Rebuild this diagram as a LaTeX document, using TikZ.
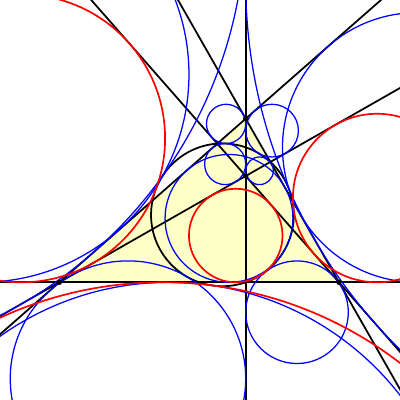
\documentclass[tikz,border=0pt]{standalone}
\usetikzlibrary{calc}
\definecolor{tri}{RGB}{255,255,200}
\tikzset{
  blk/.style={black, line width=1.25pt},
  bluec/.style={blue, line width=0.9pt},
  redc/.style={red, line width=1.2pt},
  dotp/.style={fill=black},
}
% in- and excircles of triangle (#1,#2),(#3,#4),(#5,#6)
\newcommand\tricircles[7]{%
  \pgfmathsetmacro\tcLa{sqrt((#3-#5)^2+(#4-#6)^2)}%
  \pgfmathsetmacro\tcLb{sqrt((#1-#5)^2+(#2-#6)^2)}%
  \pgfmathsetmacro\tcLc{sqrt((#1-#3)^2+(#2-#4)^2)}%
  \pgfmathsetmacro\tcK{abs((#3-#1)*(#6-#2)-(#5-#1)*(#4-#2))}%
  \foreach \sa/\sb/\sc in {1/1/1,-1/1/1,1/-1/1,1/1/-1}{%
    \pgfmathsetmacro\tcD{\sa*\tcLa+\sb*\tcLb+\sc*\tcLc}%
    \pgfmathsetmacro\tcX{(\sa*\tcLa*#1+\sb*\tcLb*#3+\sc*\tcLc*#5)/\tcD}%
    \pgfmathsetmacro\tcY{(\sa*\tcLa*#2+\sb*\tcLb*#4+\sc*\tcLc*#6)/\tcD}%
    \pgfmathsetmacro\tcR{\tcK/\tcD}%
    \draw[#7] (\tcX,\tcY) circle[radius=\tcR];
  }%
}
\begin{document}
\begin{tikzpicture}[x=2.5cm,y=-2.5cm]
\def\Ax{0.593}\def\Ay{2.823}\def\Bx{3.39}\def\Cx{2.457}\def\Cy{1.187}
\pgfmathsetmacro\Hy{\Ay-(\Cx-\Ax)*(\Bx-\Cx)/(\Ay-\Cy)}
\fill[white] (0,0) rectangle (4,4);
\useasboundingbox (0,0) rectangle (4,4);
\clip (0,0) rectangle (4,4);
\coordinate (A) at (\Ax,\Ay);
\coordinate (B) at (\Bx,\Ay);
\coordinate (C) at (\Cx,\Cy);
\coordinate (H) at (\Cx,\Hy);
\fill[tri] (A) -- (B) -- (C) -- cycle;
% six lines of the orthocentric system
\draw[blk] ($(A)!-10!(B)$) -- ($(A)!10!(B)$);
\draw[blk] ($(A)!-10!(C)$) -- ($(A)!10!(C)$);
\draw[blk] ($(A)!-10!(H)$) -- ($(A)!10!(H)$);
\draw[blk] ($(B)!-10!(C)$) -- ($(B)!10!(C)$);
\draw[blk] ($(B)!-10!(H)$) -- ($(B)!10!(H)$);
\draw[blk] ($(C)!-30!(H)$) -- ($(C)!30!(H)$);
% nine-point circle
\pgfmathsetmacro\Nx{(\Cx+(\Ax+\Bx)/2)/2}
\pgfmathsetmacro\Ny{(\Ay+(\Cy+\Hy)/2)/2}
\pgfmathsetmacro\Nr{sqrt((\Cx-\Nx)^2+(\Ay-\Ny)^2)}
\coordinate (N) at (\Nx,\Ny);
\draw[blk] (N) circle[radius=\Nr];
% in/excircles
\tricircles{\Ax}{\Ay}{\Bx}{\Ay}{\Cx}{\Cy}{bluec}
\tricircles{\Ax}{\Ay}{\Cx}{\Cy}{\Cx}{\Hy}{bluec}
\tricircles{\Bx}{\Ay}{\Cx}{\Cy}{\Cx}{\Hy}{bluec}
\tricircles{\Ax}{\Ay}{\Bx}{\Ay}{\Cx}{\Hy}{redc}
% points
\foreach \p in {A,B,C,H} \fill[dotp] (\p) circle[radius=0.027];
\end{tikzpicture}
\end{document}
